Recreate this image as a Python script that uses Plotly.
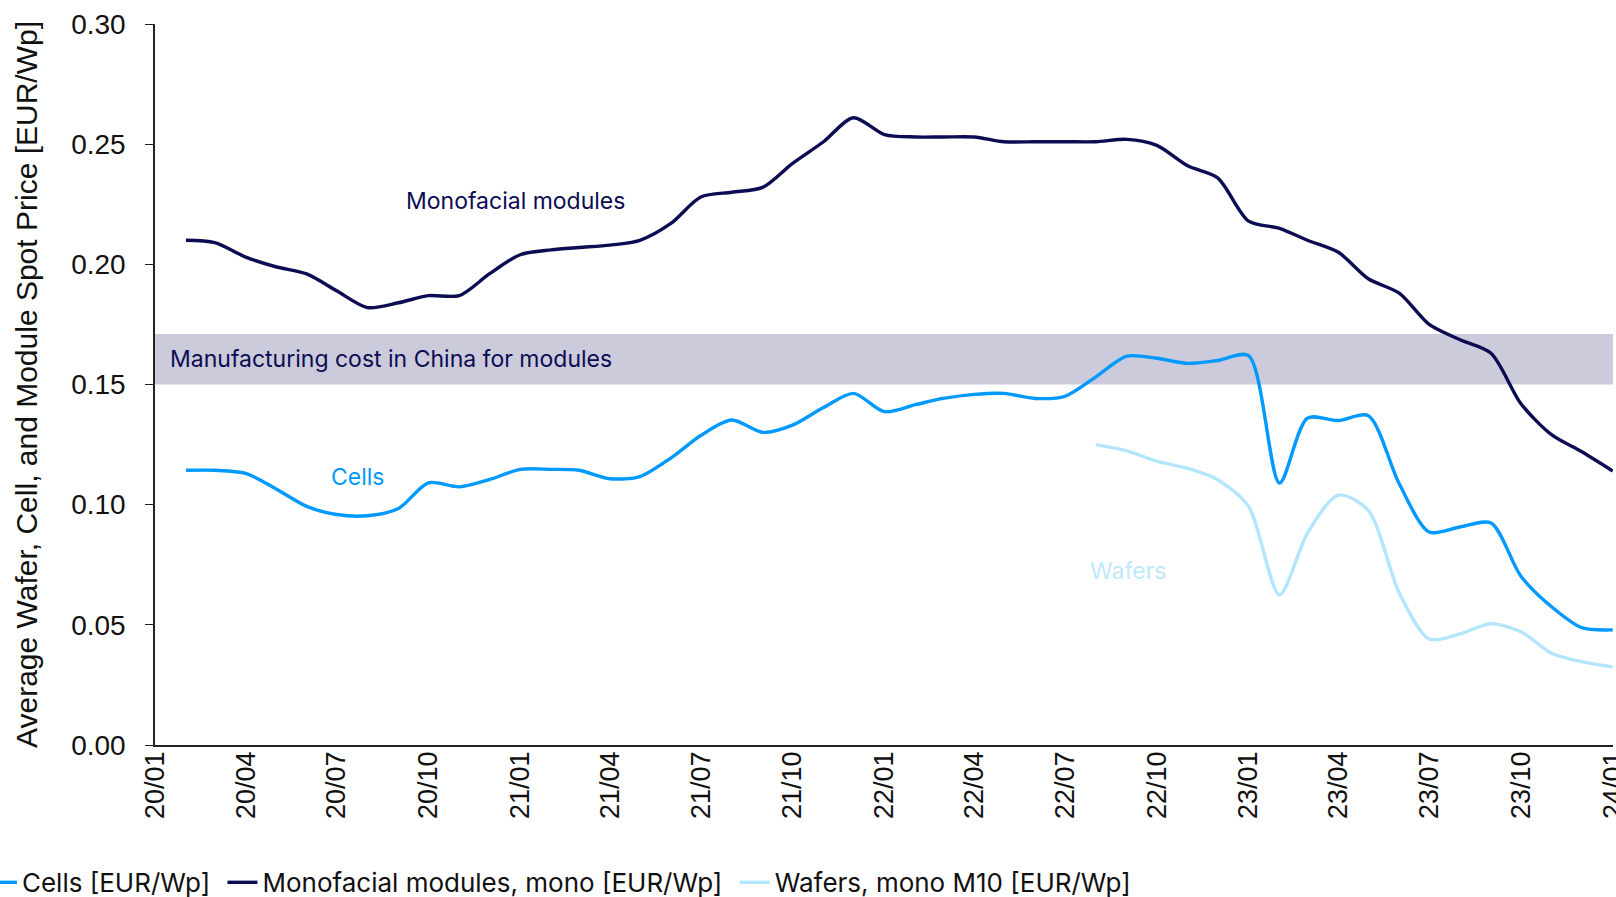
import plotly.graph_objects as go

months = ["2020-02","2020-03","2020-04","2020-05","2020-06","2020-07","2020-08","2020-09","2020-10","2020-11","2020-12",
          "2021-01","2021-02","2021-03","2021-04","2021-05","2021-06","2021-07","2021-08","2021-09","2021-10","2021-11","2021-12",
          "2022-01","2022-02","2022-03","2022-04","2022-05","2022-06","2022-07","2022-08","2022-09","2022-10","2022-11","2022-12",
          "2023-01","2023-02","2023-03","2023-04","2023-05","2023-06","2023-07","2023-08","2023-09","2023-10","2023-11","2023-12",
          "2024-01"]

modules = [0.210,0.209,0.203,0.199,0.196,0.189,0.182,0.184,0.187,0.187,0.196,
           0.204,0.206,0.207,0.208,0.210,0.217,0.228,0.230,0.232,0.242,0.251,0.261,
           0.254,0.253,0.253,0.253,0.251,0.251,0.251,0.251,0.252,0.2495,0.241,0.236,
           0.218,0.215,0.210,0.205,0.194,0.188,0.175,0.1686,0.163,0.142,0.129,0.122,
           0.114]

cells = [0.1143,0.1143,0.113,0.1066,0.0993,0.0959,0.0954,0.0984,0.1091,0.1074,0.1104,
         0.1147,0.1147,0.1143,0.1108,0.1117,0.1194,0.1288,0.1352,0.1301,0.1331,0.1404,0.1463,
         0.1387,0.1416,0.1442,0.1459,0.1463,0.1442,0.1451,0.1532,0.1618,0.1609,0.1588,0.160,
         0.162,0.109,0.136,0.135,0.137,0.1087,0.0886,0.0907,0.0924,0.0702,0.0574,0.0488,
         0.0479]

wafer_months = months[30:]
wafers = [0.125,0.1224,0.1181,0.1151,0.1104,
          0.0993,0.0625,0.0882,0.104,0.0976,0.0633,0.0441,0.0462,0.0505,0.0471,0.0381,0.0347,
          0.0325]

band_low, band_high = 0.15, 0.171

C_MOD = "#0b0c52"
C_CELL = "#0099ff"
C_WAF = "#b3e5fc"
ANN_FONT = "Inter"
TICK_FONT = "Liberation Sans, Arial"
SP = "\u00a0"

fig = go.Figure()
fig.add_trace(go.Scatter(x=months, y=cells, name="Cells [EUR/Wp]" + SP, mode="lines",
                         line=dict(color=C_CELL, width=3.4, shape="spline", smoothing=0.8)))
fig.add_trace(go.Scatter(x=months, y=modules, name="Monofacial modules, mono [EUR/Wp]" + SP, mode="lines",
                         line=dict(color=C_MOD, width=3.4, shape="spline", smoothing=0.8)))
fig.add_trace(go.Scatter(x=wafer_months, y=wafers, name="Wafers, mono M10 [EUR/Wp]", mode="lines",
                         line=dict(color=C_WAF, width=3.4, shape="spline", smoothing=0.8)))

fig.add_shape(type="rect", xref="paper", x0=0, x1=1, yref="y", y0=band_low, y1=band_high,
              fillcolor="#cccbdc", line=dict(width=0), layer="below")

fig.add_annotation(x="2020-01-14", y=0.1607, xref="x", yref="y", xanchor="left",
                   text="Manufacturing cost in China for modules", showarrow=False,
                   font=dict(family=ANN_FONT, size=23, color=C_MOD))
fig.add_annotation(x="2020-12-27", y=0.2264, text="Monofacial modules", showarrow=False,
                   font=dict(family=ANN_FONT, size=23, color=C_MOD))
fig.add_annotation(x="2020-07-22", y=0.1117, text="Cells", showarrow=False,
                   font=dict(family=ANN_FONT, size=23, color=C_CELL))
fig.add_annotation(x="2022-09-02", y=0.0723, text="Wafers", showarrow=False,
                   font=dict(family=ANN_FONT, size=23, color="#bfe8fc"))

fig.update_layout(
    width=1616, height=897,
    margin=dict(l=155, r=3, t=24, b=152, autoexpand=False),
    paper_bgcolor="white", plot_bgcolor="white",
    showlegend=True,
    legend=dict(orientation="h", x=-0.1187, y=-0.158, xanchor="left", yanchor="top",
                font=dict(family=ANN_FONT, size=26, color="#111111"), itemwidth=30,
                bgcolor="rgba(0,0,0,0)"),
    xaxis=dict(type="date", range=["2020-01-01", "2024-01-01 06:00"], tick0="2020-01-01", dtick="M3",
               tickformat="%y/%m", tickangle=-90, showgrid=False, showline=True, linecolor="#222",
               linewidth=1.5, ticks="", tickfont=dict(family=TICK_FONT, size=27, color="#111"),
               ticklabelstandoff=-6, ticklabeloverflow="allow", zeroline=False, automargin=False),
    yaxis=dict(range=[0, 0.30], dtick=0.05, tickformat=".2f", showgrid=False, showline=True,
               linecolor="#222", linewidth=1.5, ticks="outside", ticklen=8, tickcolor="#222",
               tickfont=dict(family=TICK_FONT, size=28, color="#111"), zeroline=False, automargin=False,
               ticklabelstandoff=14,
               title=dict(text="Average Wafer, Cell, and Module Spot Price [EUR/Wp]",
                          font=dict(family=TICK_FONT, size=30, color="#111"), standoff=25)),
)

fig.write_html("out.html", config={"displayModeBar": False},
               post_script="document.body.style.margin='0';document.body.style.overflow='hidden';")
